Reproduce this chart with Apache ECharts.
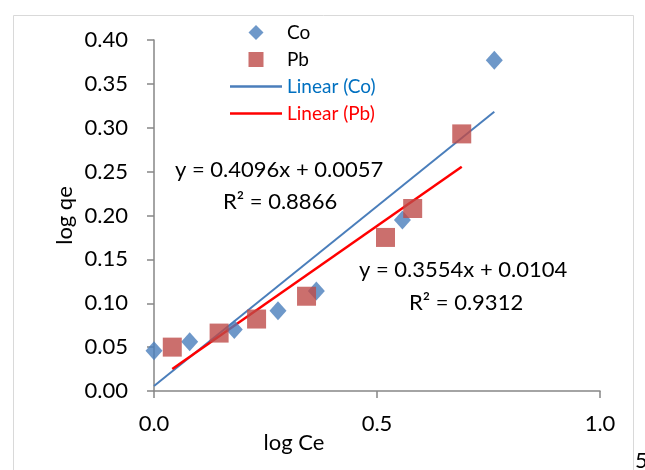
<!DOCTYPE html>
<html>
<head>
<meta charset="utf-8">
<script src="https://cdn.jsdelivr.net/npm/echarts@6/dist/echarts.min.js"></script>
<style>
  html, body { margin: 0; padding: 0; background: #fff; }
  #main { width: 645px; height: 470px; }
</style>
</head>
<body>
<div id="main"></div>
<script>
// values (log Ce, log qe)
const coX = [0.000, 0.080, 0.180, 0.278, 0.364, 0.557, 0.763]
const coY = [0.046, 0.056, 0.070, 0.0915, 0.114, 0.195, 0.377]
const pbX = [0.041, 0.146, 0.230, 0.342, 0.519, 0.580, 0.690]
const pbY = [0.050, 0.066, 0.082, 0.108, 0.175, 0.208, 0.293]

// trendline coefficients, as printed on the chart
const coFit = [0.4096, 0.0057]
const pbFit = [0.3554, 0.0104]

const xTicks = [0, 0.5, 1.0]
const yTicks = [0, 0.05, 0.10, 0.15, 0.20, 0.25, 0.30, 0.35, 0.40]

const FONT = 'Lato'

const pairs = (xs, ys) => xs.map((x, i) => [x, ys[i]])
// a trendline runs across the x range of its own points
const fitLine = (xs, fit) => {
  const a = Math.min(...xs), b = Math.max(...xs)
  return [[a, fit[0] * a + fit[1]], [b, fit[0] * b + fit[1]]]
}

// legend icons: shapes sit in the middle of a 52px slot
const DIAMOND = 'path://M7,0L14,7L7,14L0,7Z'
const SQUARE = 'path://M0,0H12V12H0Z'
const DASH = 'path://M0,0H52V2.4H0Z'

var chart = echarts.init(document.getElementById('main'))

const option = {
  animation: false,
  backgroundColor: '#fff',
  textStyle: { fontFamily: FONT },
  grid: { left: 154, right: 45, top: 40, bottom: 79, containLabel: false },
  legend: {
    orient: 'vertical',
    left: 225,
    top: 18,
    itemWidth: 52,
    itemHeight: 15,
    itemGap: 8,
    symbolKeepAspect: true,
    textStyle: { fontFamily: FONT, fontSize: 19, color: '#000' },
    data: [
      { name: 'Co', icon: DIAMOND },
      { name: 'Pb', icon: SQUARE },
      { name: 'Linear (Co)', icon: DASH, textStyle: { color: '#0070C0' } },
      { name: 'Linear (Pb)', icon: DASH, textStyle: { color: '#FF0000' } }
    ]
  },
  xAxis: {
    type: 'value',
    min: xTicks[0],
    max: xTicks[xTicks.length - 1],
    interval: 0.5,
    splitLine: { show: false },
    axisLine: { onZero: false, lineStyle: { color: '#868686', width: 1.5 } },
    axisTick: { show: true, length: 7, lineStyle: { color: '#868686', width: 1.5 } },
    axisLabel: { fontFamily: FONT, fontSize: 22, color: '#000', margin: 22, formatter: v => v.toFixed(1) },
    name: 'log Ce',
    nameLocation: 'middle',
    nameGap: 41,
    nameMoveOverlap: false,
    nameTextStyle: { fontFamily: FONT, fontSize: 22, color: '#000', padding: [0, 166, 0, 0] }
  },
  yAxis: {
    type: 'value',
    min: yTicks[0],
    max: yTicks[yTicks.length - 1],
    interval: 0.05,
    splitLine: { show: false },
    axisLine: { show: true, onZero: false, lineStyle: { color: '#868686', width: 1.5 } },
    axisTick: { show: true, length: 7, lineStyle: { color: '#868686', width: 1.5 } },
    axisLabel: { fontFamily: FONT, fontSize: 22, color: '#000', margin: 26, formatter: v => v.toFixed(2) },
    name: 'log qe',
    nameLocation: 'middle',
    nameGap: 78,
    nameMoveOverlap: false,
    nameTextStyle: { fontFamily: FONT, fontSize: 22, color: '#000' }
  },
  series: [
    {
      name: 'Linear (Co)',
      type: 'line',
      data: fitLine(coX, coFit),
      symbol: 'none',
      lineStyle: { color: '#4A7EBB', width: 2 },
      itemStyle: { color: '#4A7EBB' },
      z: 1
    },
    {
      name: 'Linear (Pb)',
      type: 'line',
      data: fitLine(pbX, pbFit),
      symbol: 'none',
      lineStyle: { color: '#FF0000', width: 2.5 },
      itemStyle: { color: '#FF0000' },
      z: 1
    },
    {
      name: 'Co',
      type: 'scatter',
      data: pairs(coX, coY),
      symbol: 'diamond',
      symbolSize: [17, 19],
      itemStyle: { color: '#4A7EBB' },
      z: 2
    },
    {
      name: 'Pb',
      type: 'scatter',
      data: pairs(pbX, pbY),
      symbol: 'rect',
      symbolSize: 19,
      itemStyle: { color: '#BE4B48' },
      z: 3
    }
  ],
  graphic: [
    {
      type: 'rect',
      shape: { x: 13.5, y: 15.5, width: 620, height: 470 },
      style: { fill: 'none', stroke: '#D9D9D9', lineWidth: 1 },
      silent: true,
      z: -1
    },
    {
      type: 'text', left: 175, top: 159,
      style: { text: 'y = 0.4096x + 0.0057', font: '22px ' + FONT, fill: '#000' }
    },
    {
      type: 'text', left: 223, top: 191,
      style: { text: 'R² = 0.8866', font: '22px ' + FONT, fill: '#000' }
    },
    {
      type: 'text', left: 359, top: 259,
      style: { text: 'y = 0.3554x + 0.0104', font: '22px ' + FONT, fill: '#000' }
    },
    {
      type: 'text', left: 409, top: 292,
      style: { text: 'R² = 0.9312', font: '22px ' + FONT, fill: '#000' }
    },
    {
      type: 'text', left: 635, top: 450,
      style: { text: '5', font: '22px ' + FONT, fill: '#000' }
    }
  ]
}

chart.setOption(option)
</script>
</body>
</html>
